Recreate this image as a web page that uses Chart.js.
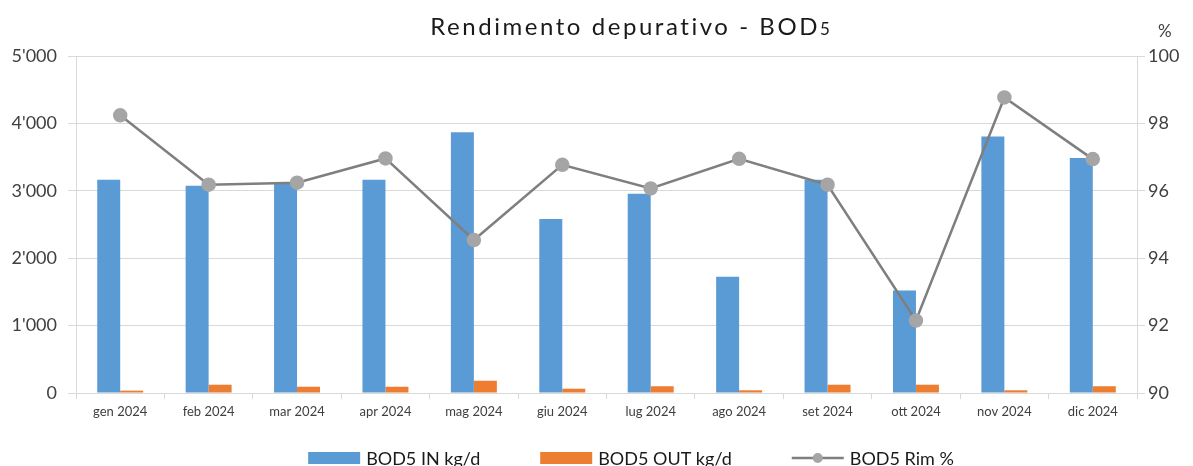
<!DOCTYPE html>
<html>
<head>
<meta charset="utf-8">
<script src="https://cdn.jsdelivr.net/npm/chart.js@4/dist/chart.umd.min.js"></script>
<style>
  html, body { margin: 0; padding: 0; background: #fff; }
  #wrap { width: 1193px; height: 466px; position: relative; }
</style>
</head>
<body>
<div id="wrap"><canvas id="chart"></canvas></div>
<script>
const months = ['gen 2024', 'feb 2024', 'mar 2024', 'apr 2024', 'mag 2024', 'giu 2024',
                'lug 2024', 'ago 2024', 'set 2024', 'ott 2024', 'nov 2024', 'dic 2024'];
const bodIn = [3165, 3075, 3125, 3165, 3870, 2580, 2955, 1725, 3165, 1520, 3805, 3485];
const bodOut = [35, 123, 93, 93, 182, 64, 100, 40, 123, 123, 40, 100];
const bodRim = [98.24, 96.18, 96.24, 96.96, 94.54, 96.77, 96.07, 96.95, 96.18, 92.15, 98.77, 96.94];

const FONT = 'Lato, "Open Sans", sans-serif';
const gridColor = '#d9d9d9';
const textColor = '#404040';

// title, "%" unit label and the legend are drawn by hand
const extrasPlugin = {
    id: 'extras',
    afterDraw(chart) {
        const ctx = chart.ctx;
        ctx.save();

        // title with small "5", spread out to the width of the original
        const main = 'Rendimento depurativo - BOD';
        ctx.fillStyle = '#1a1a1a';
        ctx.textBaseline = 'alphabetic';
        ctx.textAlign = 'left';
        ctx.font = '17px ' + FONT;
        const wSub = ctx.measureText('5').width;
        ctx.font = '24px ' + FONT;
        const w0 = ctx.measureText(main).width;
        const spacing = Math.max(0, (400 - wSub - w0) / main.length);
        ctx.letterSpacing = spacing.toFixed(2) + 'px';
        const wMain = ctx.measureText(main).width;
        const tx = 630 - (wMain + wSub) / 2;
        ctx.fillText(main, tx, 35);
        ctx.letterSpacing = '0px';
        ctx.font = '17px ' + FONT;
        ctx.fillText('5', tx + wMain, 35);

        // unit on the right axis
        ctx.font = '17px ' + FONT;
        ctx.fillStyle = textColor;
        ctx.fillText('%', 1158, 37);

        // legend
        const items = [
            { label: 'BOD5 IN kg/d', type: 'box', color: '#5b9bd5' },
            { label: 'BOD5 OUT kg/d', type: 'box', color: '#ed7d31' },
            { label: 'BOD5 Rim %', type: 'line', color: '#7f7f7f' }
        ];
        ctx.font = '18px ' + FONT;
        const symW = 52, gap = 6, itemGap = 60;
        let total = 0;
        items.forEach((it, i) => {
            it.w = ctx.measureText(it.label).width;
            total += symW + gap + it.w + (i < items.length - 1 ? itemGap : 0);
        });
        let x = 631 - total / 2;
        const cy = 458;
        items.forEach(it => {
            if (it.type === 'box') {
                ctx.fillStyle = it.color;
                ctx.fillRect(x, cy - 6, symW, 12);
            } else {
                ctx.strokeStyle = it.color;
                ctx.lineWidth = 2.5;
                ctx.beginPath();
                ctx.moveTo(x, cy);
                ctx.lineTo(x + symW, cy);
                ctx.stroke();
                ctx.fillStyle = '#a5a5a5';
                ctx.beginPath();
                ctx.arc(x + symW / 2, cy, 5, 0, Math.PI * 2);
                ctx.fill();
            }
            ctx.fillStyle = '#1a1a1a';
            ctx.textBaseline = 'middle';
            ctx.fillText(it.label, x + symW + gap, cy + 1);
            x += symW + gap + it.w + itemGap;
        });
        ctx.restore();
    }
};

const fmtThousands = v => String(v).replace(/\B(?=(\d{3})+(?!\d))/g, "'");

new Chart(document.getElementById('chart'), {
    data: {
        labels: months,
        datasets: [
            {
                type: 'line',
                label: 'BOD5 Rim %',
                data: bodRim,
                yAxisID: 'y2',
                borderColor: '#7f7f7f',
                borderWidth: 2.5,
                pointBackgroundColor: '#a5a5a5',
                pointBorderColor: '#a5a5a5',
                pointRadius: 6,
                tension: 0,
                order: 0
            },
            {
                type: 'bar',
                label: 'BOD5 IN kg/d',
                data: bodIn,
                yAxisID: 'y',
                backgroundColor: '#5b9bd5',
                categoryPercentage: 0.52,
                barPercentage: 1,
                order: 1
            },
            {
                type: 'bar',
                label: 'BOD5 OUT kg/d',
                data: bodOut,
                yAxisID: 'y',
                backgroundColor: '#ed7d31',
                categoryPercentage: 0.52,
                barPercentage: 1,
                order: 1
            }
        ]
    },
    options: {
        responsive: true,
        maintainAspectRatio: false,
        animation: false,
        layout: { padding: { top: 56, left: 0, right: 0, bottom: 0 } },
        plugins: {
            legend: { display: false },
            title: { display: false },
            tooltip: { enabled: false }
        },
        scales: {
            x: {
                offset: true,
                grid: { offset: true, drawOnChartArea: false, drawTicks: true, tickLength: 6, color: gridColor },
                border: { color: gridColor },
                ticks: { color: textColor, font: { family: FONT, size: 13 }, padding: 5, maxRotation: 0 },
                afterFit: s => { s.height = 73; }
            },
            y: {
                position: 'left',
                min: 0,
                max: 5000,
                ticks: { stepSize: 1000, color: textColor, font: { family: FONT, size: 18 }, padding: 11,
                         callback: v => fmtThousands(v) },
                grid: { color: gridColor, tickLength: 8 },
                border: { color: gridColor },
                afterFit: s => { s.width = 76; }
            },
            y2: {
                position: 'right',
                min: 90,
                max: 100,
                ticks: { stepSize: 2, color: textColor, font: { family: FONT, size: 18 }, padding: 3 },
                grid: { drawOnChartArea: false, color: gridColor, tickLength: 8 },
                border: { color: gridColor },
                afterFit: s => { s.width = 56; }
            }
        }
    },
    plugins: [extrasPlugin]
});
</script>
</body>
</html>
